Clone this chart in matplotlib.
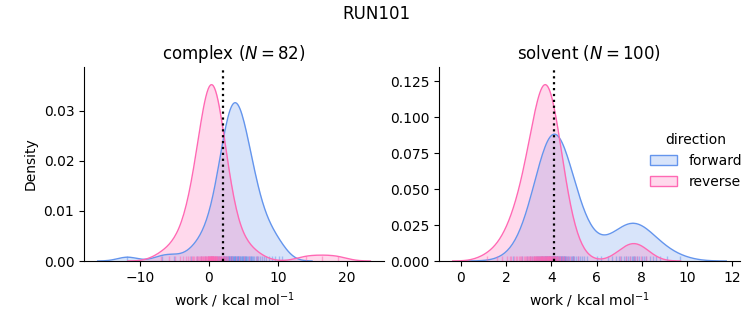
import numpy as np
import matplotlib
matplotlib.use("Agg")
import matplotlib.pyplot as plt
from matplotlib.patches import Patch

# work values (kcal/mol)
complex_forward = [
    -11.8, -6.8, -5.0,
    -2.6, -1.7, -1.1, -0.57, -0.13, 0.22, 0.57, 0.92, 1.19, 1.45,
    1.63, 1.8, 1.98, 2.16, 2.24, 2.33, 2.42, 2.51, 2.6, 2.68,
    2.77, 2.86, 2.9, 2.95, 3.04, 3.12, 3.17, 3.21, 3.3, 3.39,
    3.43, 3.48, 3.56, 3.65, 3.7, 3.74, 3.83, 3.92, 4.0, 4.09,
    4.18, 4.27, 4.36, 4.44, 4.53, 4.62, 4.71, 4.8, 4.88, 4.97,
    5.06, 5.15, 5.24, 5.32, 5.41, 5.5, 5.62, 5.75, 5.9, 6.05,
    6.2, 6.38, 6.56, 6.75, 6.95, 7.15, 7.4, 7.65, 7.95, 8.3,
    8.7, 9.1, 9.6, 10.1, 10.6, 2.11, 1.3, 6.1, 4.22,
]
complex_reverse = [
    -7.0, -5.8, -4.9, -4.2, -3.7, -3.3,
    -3.0, -2.7, -2.5, -2.3, -2.1, -1.9, -1.75, -1.6, -1.45, -1.3,
    -1.2, -1.1, -1.0, -0.9, -0.8, -0.7, -0.6, -0.5, -0.4, -0.3,
    -0.2, -0.1, -0.05, 0.0, 0.05, 0.1, 0.15, 0.2, 0.25, 0.3,
    0.35, 0.4, 0.45, 0.5, 0.55, 0.6, 0.65, 0.7, 0.75, 0.8,
    0.85, 0.9, 1.0, 1.1, 1.2, 1.3, 1.4, 1.5, 1.6, 1.7,
    1.8, 1.9, 2.0, 2.1, 2.2, 2.35, 2.5, 2.65, 2.8, 3.0,
    -0.15, 0.45, 0.55, 0.95, 1.05, -0.55, 0.25,
    3.4, 3.9, 4.4, 5.0, 5.8, 7.0,
    14.0, 16.3, 18.6,
]
solvent_forward = [
    2.3, 2.7, 2.9, 3.05, 3.15, 3.25, 3.3, 3.35, 3.4, 3.45,
    3.5, 3.55, 3.6, 3.63, 3.66, 3.7, 3.73, 3.76, 3.79, 3.82,
    3.85, 3.88, 3.91, 3.94, 3.97, 4.0, 4.02, 4.04, 4.06, 4.08,
    4.1, 4.12, 4.14, 4.16, 4.18, 4.2, 4.23, 4.26, 4.29, 4.32,
    4.35, 4.38, 4.41, 4.44, 4.47, 4.5, 4.54, 4.58, 4.62, 4.66,
    4.7, 4.75, 4.8, 4.85, 4.9, 4.96, 5.02, 5.1, 5.18, 5.27,
    5.36, 5.46, 5.58, 4.13, 4.05, 6.0, 3.92, 4.03, 4.15, 4.25,
    3.75, 3.6, 4.45, 4.6, 4.95,
    6.2, 6.5, 6.7, 6.85, 7.0, 7.1, 7.2, 7.3, 7.4, 7.5,
    7.55, 7.6, 7.65, 7.7, 7.8, 7.9, 8.0, 8.1, 8.2, 8.35,
    8.5, 8.65, 8.8, 9.1, 9.7,
]
solvent_reverse = [
    1.15, 1.6, 1.83, 2.05, 2.22, 2.33, 2.44, 2.49, 2.6, 2.66,
    2.71, 2.77, 2.82, 2.88, 2.93, 2.96, 3.0, 3.04, 3.07, 3.11,
    3.14, 3.17, 3.21, 3.24, 3.26, 3.29, 3.33, 3.35, 3.37, 3.4,
    3.43, 3.46, 3.48, 3.5, 3.52, 3.55, 3.57, 3.59, 3.61, 3.63,
    3.66, 3.68, 3.7, 3.72, 3.74, 3.77, 3.79, 3.81, 3.83, 3.85,
    3.88, 3.9, 3.92, 3.94, 3.96, 3.99, 4.01, 4.03, 4.06, 4.1,
    4.13, 4.16, 4.2, 4.23, 4.26, 4.31, 4.35, 4.39, 4.45, 4.5,
    4.56, 4.64, 4.72, 4.82, 4.97, 5.19,
    3.32, 3.45, 3.54, 3.6, 2.15, 2.55, 3.76, 3.8, 3.84, 3.89,
    3.93, 3.98, 4.05, 4.12, 4.18, 4.25, 4.36,
    7.05, 7.3, 7.5, 7.65, 7.8, 7.95, 8.2,
]
free_energy = {"complex": 2.05, "solvent": 4.12}
phases = ["complex", "solvent"]
directions = ["forward", "reverse"]
colors = {"forward": "cornflowerblue", "reverse": "hotpink"}

data = {
    ("complex", "forward"): complex_forward,
    ("complex", "reverse"): complex_reverse,
    ("solvent", "forward"): solvent_forward,
    ("solvent", "reverse"): solvent_reverse,
}
n_total = sum(len(v) for v in data.values())


# gaussian kde, scott bandwidth, scaled by share of whole table
def kde_curve(values, n_total, cut=3, gridsize=200):
    x = np.asarray(values, dtype=float)
    h = x.std(ddof=1) * len(x) ** (-1 / 5)
    grid = np.linspace(x.min() - cut * h, x.max() + cut * h, gridsize)
    z = (grid[:, None] - x[None, :]) / h
    dens = np.exp(-0.5 * z ** 2).sum(axis=1) / (len(x) * h * np.sqrt(2 * np.pi))
    return grid, dens * len(x) / n_total


fig = plt.figure(figsize=(7.53, 3.25), dpi=100)
axes = [fig.add_axes([0.1116, 0.1969, 0.3984, 0.597]),
        fig.add_axes([0.583, 0.1969, 0.3997, 0.597])]

for ax, phase in zip(axes, phases):
    for d in directions:
        vals = data[(phase, d)]
        gx, gy = kde_curve(vals, n_total)
        ax.fill_between(gx, 0, gy, color=colors[d], alpha=0.25, lw=0)
        ax.plot(gx, gy, color=colors[d], lw=1)
        ax.vlines(vals, 0, 0.025, transform=ax.get_xaxis_transform(),
                  color=colors[d], lw=1, alpha=0.5)
    ax.axvline(free_energy[phase], color="black", ls=":", lw=1.6)
    ax.margins(y=0.1)
    ax.set_ylim(bottom=0)
    n = len(data[(phase, "forward")])
    ax.set_title(f"{phase} ($N = {n}$)", fontsize=12)
    ax.set_xlabel("work / kcal mol$^{-1}$")
    ax.spines["top"].set_visible(False)
    ax.spines["right"].set_visible(False)

axes[0].set_ylabel("Density")
axes[0].set_yticks([0, 0.01, 0.02, 0.03])
axes[0].set_xticks([-10, 0, 10, 20])
axes[1].set_xticks(range(0, 13, 2))

handles = [Patch(facecolor=matplotlib.colors.to_rgba(colors[d], 0.25),
                 edgecolor=colors[d]) for d in directions]
fig.legend(handles, directions, title="direction", frameon=False,
           loc="center left", bbox_to_anchor=(0.846, 0.505), fontsize=10,
           title_fontsize=10)

fig.suptitle("RUN101", fontsize=12, y=0.985)
fig.savefig("out.png", dpi=100)
